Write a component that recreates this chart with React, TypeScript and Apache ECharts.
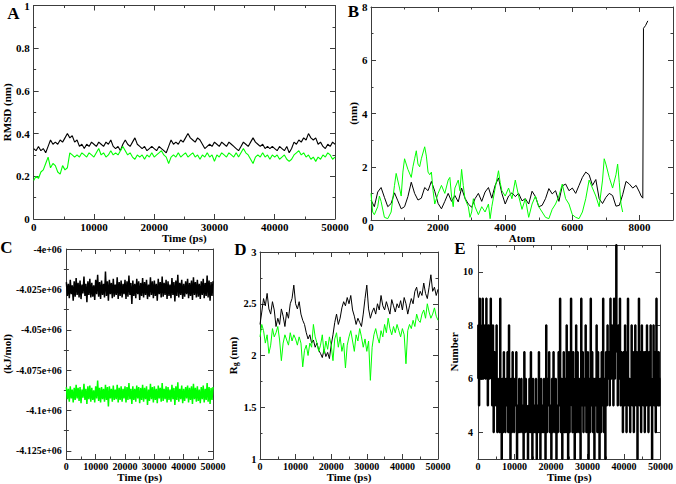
import React, { useEffect, useRef } from "react";
import * as echarts from "echarts";

// ---------- Panel A: RMSD (nm) vs Time (ps), step 400 ps ----------
const A_STEP = 400;
const aBlack = [
  0.33, 0.32, 0.34, 0.32, 0.33, 0.31, 0.34, 0.37, 0.35, 0.36,
  0.35, 0.37, 0.36, 0.38, 0.40, 0.38, 0.39, 0.36, 0.37, 0.34,
  0.35, 0.33, 0.35, 0.34, 0.36, 0.35, 0.34, 0.36, 0.35, 0.34,
  0.36, 0.35, 0.37, 0.34, 0.33, 0.34, 0.32, 0.35, 0.37, 0.35,
  0.34, 0.36, 0.38, 0.35, 0.34, 0.33, 0.34, 0.32, 0.33, 0.34,
  0.33, 0.32, 0.34, 0.33, 0.32, 0.31, 0.34, 0.37, 0.35, 0.36,
  0.35, 0.37, 0.36, 0.38, 0.40, 0.38, 0.37, 0.36, 0.38, 0.37,
  0.35, 0.33, 0.34, 0.35, 0.34, 0.36, 0.35, 0.34, 0.36, 0.35,
  0.34, 0.36, 0.35, 0.34, 0.33, 0.32, 0.34, 0.36, 0.35, 0.34,
  0.36, 0.38, 0.36, 0.35, 0.34, 0.35, 0.33, 0.34, 0.33, 0.34,
  0.33, 0.32, 0.34, 0.33, 0.32, 0.34, 0.31, 0.33, 0.36, 0.35,
  0.37, 0.36, 0.38, 0.37, 0.40, 0.38, 0.37, 0.38, 0.35, 0.36,
  0.34, 0.33, 0.35, 0.34, 0.36, 0.35,
];
const aGreen = [
  0.18, 0.20, 0.19, 0.22, 0.23, 0.26, 0.29, 0.24, 0.26, 0.25,
  0.22, 0.21, 0.25, 0.23, 0.24, 0.31, 0.30, 0.29, 0.30, 0.29,
  0.31, 0.30, 0.29, 0.31, 0.30, 0.29, 0.31, 0.33, 0.30, 0.31,
  0.29, 0.30, 0.32, 0.30, 0.31, 0.30, 0.32, 0.34, 0.32, 0.30,
  0.31, 0.29, 0.28, 0.30, 0.29, 0.30, 0.28, 0.30, 0.29, 0.31,
  0.29, 0.30, 0.31, 0.32, 0.30, 0.29, 0.26, 0.29, 0.30, 0.29,
  0.31, 0.29, 0.30, 0.31, 0.29, 0.30, 0.31, 0.29, 0.30, 0.28,
  0.30, 0.29, 0.31, 0.29, 0.30, 0.27, 0.30, 0.29, 0.31, 0.30,
  0.29, 0.31, 0.30, 0.29, 0.31, 0.29, 0.31, 0.33, 0.31, 0.30,
  0.28, 0.26, 0.29, 0.30, 0.29, 0.31, 0.29, 0.30, 0.28, 0.30,
  0.29, 0.30, 0.28, 0.29, 0.30, 0.28, 0.27, 0.28, 0.30, 0.31,
  0.32, 0.30, 0.31, 0.29, 0.30, 0.28, 0.29, 0.27, 0.29, 0.28,
  0.30, 0.29, 0.31, 0.30, 0.28, 0.29,
];

// ---------- Panel B: (nm) vs Atom ----------
const B_STEP = 100;
const bBlack = [
  0.75, 0.50, 1.05, 1.22, 0.85, 0.50, 0.62, 1.02, 0.72, 0.42,
  0.50, 0.88, 1.42, 1.00, 0.75, 0.82, 1.22, 1.10, 1.45, 1.08,
  0.62, 0.42, 0.70, 1.00, 0.70, 0.92, 0.68, 1.20, 0.82, 0.60,
  0.48, 0.80, 1.00, 0.70, 1.05, 1.22, 0.82, 1.30, 1.58, 1.00,
  0.60, 0.90, 1.02, 0.88, 1.00, 0.72, 0.80, 0.60, 1.08, 0.88,
  0.50, 0.55, 0.80, 1.18, 0.98, 1.10, 0.70, 1.28, 1.35, 1.10,
  1.20, 1.00, 1.30, 1.60, 1.80, 1.70, 1.30, 1.52, 0.80, 0.62,
  0.85, 1.00, 0.92, 0.52, 0.55, 0.95, 1.45, 1.35, 1.20, 1.30,
  1.05,
];
const bBlackTailAtom = [8050, 8100, 8120, 8180, 8250];
const bBlackTailVal = [0.9, 0.82, 7.2, 7.3, 7.48];
const bGreenAtom = [
  0, 50, 100, 200, 250, 300, 400, 500, 600, 700,
  750, 850, 900, 950, 1000, 1100, 1200, 1250, 1300, 1350,
  1400, 1450, 1500, 1600, 1650, 1700, 1750, 1800, 1850, 1900,
  2000, 2100, 2200, 2300, 2350, 2400, 2450, 2500, 2600, 2650,
  2700, 2750, 2800, 2900, 2950, 3000, 3050, 3100, 3200, 3300,
  3400, 3500, 3550, 3600, 3700, 3800, 3850, 3900, 4000, 4100,
  4200, 4300, 4400, 4500, 4600, 4700, 4800, 4900, 5000, 5100,
  5200, 5300, 5400, 5500, 5600, 5700, 5800, 5900, 6000, 6100,
  6200, 6300, 6400, 6500, 6600, 6700, 6800, 6900, 6950, 7000,
  7100, 7200, 7300, 7350, 7400, 7450, 7500,
];
const bGreenVal = [
  1.0, 0.3, 0.2, 0.5, 0.9, 0.7, 0.1, 0.05, 0.3, 1.3,
  1.75, 1.2, 0.9, 1.8, 2.3, 1.9, 1.6, 2.0, 2.3, 2.6,
  2.1, 2.0, 2.3, 2.75, 2.4, 1.8, 1.7, 1.8, 1.1, 0.6,
  1.0, 1.3, 1.0, 1.5, 1.6, 0.9, 0.5, 1.2, 1.5, 1.1,
  1.9, 1.3, 0.8, 0.5, 0.1, 0.3, 0.8, 0.5, 0.2, 0.5,
  0.3, 0.6, 0.05, 0.5, 1.2, 1.85, 1.4, 1.1, 0.9, 1.2,
  0.8, 1.5, 0.9, 0.4, 0.8, 0.1, 0.6, 0.9, 0.5, 0.3,
  0.1, 0.05, 0.4, 0.6, 0.9, 1.35, 0.8, 0.6, 0.2, 0.1,
  0.05, 0.3, 0.8, 1.5, 1.2, 0.9, 0.5, 1.5, 2.3, 2.1,
  1.6, 1.2, 1.7, 2.1, 1.4, 0.6, 0.3,
];

// ---------- Panel C: (kJ/mol) vs Time (ps), 151 samples over 50000 ps ----------
const C_STEP = 50000 / 150;
const cBlack = [
  -4.0205e6, -4.029e6, -4.0215e6, -4.0305e6, -4.019e6, -4.028e6, -4.0225e6, -4.032e6, -4.02e6, -4.0295e6,
  -4.018e6, -4.0285e6, -4.021e6, -4.03e6, -4.0195e6, -4.031e6, -4.022e6, -4.0275e6, -4.017e6, -4.029e6,
  -4.0215e6, -4.033e6, -4.02e6, -4.0285e6, -4.0185e6, -4.03e6, -4.021e6, -4.0295e6, -4.0225e6, -4.0315e6,
  -4.019e6, -4.028e6, -4.016e6, -4.0295e6, -4.0205e6, -4.031e6, -4.0195e6, -4.0285e6, -4.0215e6, -4.03e6,
  -4.014e6, -4.029e6, -4.02e6, -4.032e6, -4.019e6, -4.028e6, -4.021e6, -4.0305e6, -4.0185e6, -4.0295e6,
  -4.022e6, -4.0285e6, -4.0175e6, -4.031e6, -4.0205e6, -4.029e6, -4.0195e6, -4.03e6, -4.0215e6, -4.028e6,
  -4.019e6, -4.031e6, -4.02e6, -4.0295e6, -4.0165e6, -4.0285e6, -4.021e6, -4.034e6, -4.0195e6, -4.029e6,
  -4.0215e6, -4.0305e6, -4.0185e6, -4.028e6, -4.02e6, -4.0315e6, -4.021e6, -4.029e6, -4.018e6, -4.03e6,
  -4.0205e6, -4.0285e6, -4.019e6, -4.031e6, -4.022e6, -4.0295e6, -4.0175e6, -4.0285e6, -4.02e6, -4.0305e6,
  -4.0195e6, -4.029e6, -4.0215e6, -4.032e6, -4.0185e6, -4.028e6, -4.0205e6, -4.03e6, -4.017e6, -4.0295e6,
  -4.021e6, -4.0285e6, -4.019e6, -4.031e6, -4.02e6, -4.029e6, -4.022e6, -4.0305e6, -4.018e6, -4.0285e6,
  -4.0205e6, -4.0325e6, -4.0195e6, -4.029e6, -4.016e6, -4.03e6, -4.021e6, -4.0285e6, -4.019e6, -4.031e6,
  -4.0215e6, -4.0295e6, -4.02e6, -4.028e6, -4.0185e6, -4.0305e6, -4.021e6, -4.029e6, -4.0195e6, -4.0315e6,
  -4.0175e6, -4.0285e6, -4.0205e6, -4.03e6, -4.019e6, -4.0295e6, -4.0215e6, -4.031e6, -4.02e6, -4.0285e6,
  -4.0185e6, -4.0305e6, -4.021e6, -4.029e6, -4.0165e6, -4.03e6, -4.0195e6, -4.032e6, -4.0205e6, -4.029e6,
  -4.02e6,
];
const cGreen = [
  -4.0855e6, -4.093e6, -4.0865e6, -4.0945e6, -4.085e6, -4.0925e6, -4.087e6, -4.095e6, -4.086e6, -4.0935e6,
  -4.084e6, -4.0925e6, -4.086e6, -4.094e6, -4.0855e6, -4.0955e6, -4.087e6, -4.092e6, -4.0835e6, -4.0935e6,
  -4.0865e6, -4.096e6, -4.085e6, -4.093e6, -4.0845e6, -4.0945e6, -4.086e6, -4.0935e6, -4.0875e6, -4.095e6,
  -4.085e6, -4.0925e6, -4.0815e6, -4.094e6, -4.086e6, -4.095e6, -4.0855e6, -4.093e6, -4.0865e6, -4.0945e6,
  -4.084e6, -4.0935e6, -4.0855e6, -4.0975e6, -4.085e6, -4.0925e6, -4.0865e6, -4.0945e6, -4.0845e6, -4.0935e6,
  -4.087e6, -4.093e6, -4.084e6, -4.095e6, -4.086e6, -4.0935e6, -4.085e6, -4.0945e6, -4.0865e6, -4.0925e6,
  -4.085e6, -4.095e6, -4.0855e6, -4.0935e6, -4.083e6, -4.093e6, -4.0865e6, -4.096e6, -4.085e6, -4.0935e6,
  -4.0865e6, -4.0945e6, -4.0845e6, -4.0925e6, -4.0855e6, -4.0955e6, -4.086e6, -4.0935e6, -4.084e6, -4.0945e6,
  -4.086e6, -4.093e6, -4.085e6, -4.0965e6, -4.087e6, -4.094e6, -4.0835e6, -4.093e6, -4.0855e6, -4.095e6,
  -4.085e6, -4.0935e6, -4.0865e6, -4.0955e6, -4.0845e6, -4.0925e6, -4.086e6, -4.0945e6, -4.083e6, -4.094e6,
  -4.0865e6, -4.093e6, -4.085e6, -4.095e6, -4.0855e6, -4.0935e6, -4.087e6, -4.0945e6, -4.084e6, -4.093e6,
  -4.086e6, -4.0965e6, -4.085e6, -4.0935e6, -4.0825e6, -4.0945e6, -4.0865e6, -4.093e6, -4.0845e6, -4.0955e6,
  -4.0865e6, -4.094e6, -4.0855e6, -4.0925e6, -4.0845e6, -4.095e6, -4.086e6, -4.0935e6, -4.085e6, -4.096e6,
  -4.0835e6, -4.093e6, -4.086e6, -4.0945e6, -4.085e6, -4.094e6, -4.087e6, -4.0955e6, -4.0855e6, -4.093e6,
  -4.0845e6, -4.095e6, -4.0865e6, -4.0935e6, -4.083e6, -4.0945e6, -4.0855e6, -4.096e6, -4.086e6, -4.0935e6,
  -4.0855e6,
];
const cTicks = [-4.125e6, -4.1e6, -4.075e6, -4.05e6, -4.025e6, -4.0e6];
const cMinorTicks = [-4.1125e6, -4.0875e6, -4.0625e6, -4.0375e6, -4.0125e6];

// ---------- Panel D: Rg (nm) vs Time (ps), step 500 ps ----------
const D_STEP = 500;
const dBlack = [
  2.30, 2.42, 2.55, 2.48, 2.60, 2.45, 2.40, 2.52, 2.44, 2.28,
  2.36, 2.30, 2.45, 2.38, 2.28, 2.42, 2.36, 2.50, 2.55, 2.68,
  2.50, 2.45, 2.52, 2.40, 2.34, 2.30, 2.22, 2.16, 2.20, 2.12,
  2.15, 2.08, 2.12, 2.05, 2.02, 1.98, 2.06, 1.99, 2.03, 1.97,
  2.10, 2.20, 2.32, 2.40, 2.30, 2.36, 2.46, 2.52, 2.48, 2.56,
  2.50, 2.58, 2.44, 2.38, 2.30, 2.36, 2.32, 2.28, 2.40, 2.55,
  2.68, 2.45, 2.36, 2.42, 2.46, 2.40, 2.50, 2.44, 2.58, 2.48,
  2.44, 2.52, 2.46, 2.40, 2.54, 2.48, 2.42, 2.50, 2.46, 2.53,
  2.44, 2.56, 2.50, 2.40, 2.48, 2.55, 2.50, 2.62, 2.66, 2.56,
  2.62, 2.58, 2.70, 2.60, 2.55, 2.66, 2.78, 2.62, 2.66, 2.58,
  2.64,
];
const dGreen = [
  2.18, 2.30, 2.24, 2.12, 2.20, 2.02, 2.10, 2.26, 2.18, 2.22,
  2.28, 2.15, 1.95, 2.12, 2.20, 2.15, 2.10, 2.22, 2.14, 2.20,
  2.16, 2.10, 2.18, 2.12, 1.89, 2.05, 2.10, 2.00, 2.12, 2.08,
  2.30, 2.18, 2.12, 2.04, 2.10, 2.20, 2.02, 2.14, 2.06, 2.18,
  2.10, 1.95, 2.16, 2.22, 2.08, 2.18, 2.04, 2.12, 1.88, 2.10,
  2.18, 2.24, 2.14, 2.04, 2.20, 2.14, 2.26, 2.18, 2.08, 2.16,
  2.04, 2.14, 1.76, 2.08, 2.20, 2.26, 2.18, 2.12, 2.24, 2.18,
  2.30, 2.22, 2.36, 2.26, 2.20, 2.28, 2.22, 2.30, 2.24, 2.18,
  2.26, 2.20, 1.92, 2.24, 2.30, 2.26, 2.34, 2.28, 2.40, 2.34,
  2.32, 2.40, 2.44, 2.36, 2.50, 2.42, 2.36, 2.40, 2.46, 2.38,
  2.34,
];

// ---------- Panel E: Number vs Time (ps), step 200 ps ----------
const E_STEP = 200;
const eNumber = [
  6, 8, 5, 9, 7, 6, 8, 9, 6, 7,
  8, 6, 9, 7, 5, 8, 6, 7, 9, 6,
  5, 8, 4, 7, 6, 5, 8, 4, 6, 5,
  4, 9, 5, 3, 6, 4, 7, 5, 4, 6,
  5, 7, 4, 8, 5, 3, 6, 4, 7, 5,
  4, 6, 5, 7, 3, 5, 4, 6, 4, 5,
  6, 4, 5, 3, 7, 4, 6, 5, 4, 3,
  5, 6, 4, 7, 5, 3, 6, 4, 5, 4,
  6, 3, 5, 4, 7, 5, 3, 6, 4, 5,
  4, 6, 5, 3, 8, 4, 6, 5, 7, 4,
  5, 3, 6, 4, 7, 5, 4, 6, 3, 5,
  4, 7, 5, 9, 4, 6, 3, 5, 7, 4,
  6, 4, 8, 5, 3, 7, 4, 6, 9, 5,
  4, 7, 5, 3, 6, 8, 4, 7, 5, 4,
  6, 3, 9, 5, 7, 4, 6, 5, 8, 4,
  5, 7, 3, 6, 4, 9, 5, 7, 4, 6,
  3, 6, 5, 8, 4, 7, 5, 3, 6, 4,
  7, 5, 9, 4, 6, 3, 7, 5, 8, 6,
  7, 5, 9, 6, 8, 7, 5, 9, 6, 8,
  11, 7, 5, 8, 6, 9, 5, 7, 6, 4,
  7, 5, 8, 6, 4, 7, 9, 5, 6, 4,
  6, 8, 5, 7, 4, 6, 8, 5, 7, 3,
  6, 9, 5, 7, 4, 8, 6, 5, 7, 4,
  7, 5, 8, 6, 4, 7, 5, 8, 6, 3,
  6, 8, 5, 7, 4, 9, 6, 5, 7, 5,
  6,
];
const eTicks = [4, 6, 8, 10];

const FONT = "Liberation Serif, Times New Roman, serif";
const AXC = "#3c3c3c";
const GREEN = "#00ff00";

const txt = (size: number) => ({
  fontSize: size,
  fontWeight: "bold" as const,
  fontFamily: FONT,
  color: "#000",
});

type AxOpt = {
  min: number;
  max: number;
  interval?: number;
  fs: number;
  margin: number;
  name: string;
  nameGap: number;
  nfs: number;
  custom?: number[];
  formatter?: (v: number) => string;
  rich?: any;
};

const plain = (v: number) => String(v);

function mkX(g: number, o: AxOpt) {
  const base: any = {
    type: "value",
    gridIndex: g,
    min: o.min,
    max: o.max,
    interval: o.interval,
    axisLine: { show: true, onZero: false, lineStyle: { color: AXC, width: 1 } },
    axisTick: { show: true, inside: true, length: 5, lineStyle: { color: AXC } },
    minorTick: { show: true, splitNumber: 2, length: 2.5, lineStyle: { color: AXC } },
    splitLine: { show: false },
    minorSplitLine: { show: false },
  };
  return [
    {
      ...base,
      position: "bottom",
      axisLabel: { show: true, margin: o.margin, ...txt(o.fs), formatter: o.formatter || plain },
      name: o.name,
      nameLocation: "middle",
      nameGap: o.nameGap,
      nameTextStyle: txt(o.nfs),
    },
    { ...base, position: "top", axisLabel: { show: false } },
  ];
}

function mkY(g: number, o: AxOpt) {
  const base: any = {
    type: "value",
    gridIndex: g,
    min: o.min,
    max: o.max,
    interval: o.interval,
    axisLine: { show: true, onZero: false, lineStyle: { color: AXC, width: 1 } },
    axisTick: {
      show: true,
      inside: true,
      length: 5,
      lineStyle: { color: AXC },
      ...(o.custom ? { customValues: o.custom } : {}),
    },
    minorTick: { show: !o.custom, splitNumber: 2, length: 2.5, lineStyle: { color: AXC } },
    splitLine: { show: false },
    minorSplitLine: { show: false },
  };
  return [
    {
      ...base,
      position: "left",
      axisLabel: {
        show: true,
        margin: o.margin,
        ...txt(o.fs),
        ...(o.custom ? { customValues: o.custom } : {}),
        formatter: o.formatter || plain,
      },
      name: o.name,
      nameLocation: "middle",
      nameGap: o.nameGap,
      nameTextStyle: { ...txt(o.nfs), ...(o.rich ? { rich: o.rich } : {}) },
    },
    { ...base, position: "right", axisLabel: { show: false } },
  ];
}

function minorY(g: number, pos: "left" | "right", min: number, max: number, vals: number[]) {
  return {
    type: "value",
    gridIndex: g,
    position: pos,
    min,
    max,
    axisLine: { show: false },
    axisTick: { show: true, inside: true, length: 2.5, lineStyle: { color: AXC }, customValues: vals },
    axisLabel: { show: false },
    splitLine: { show: false },
  };
}

const line = (
  data: number[][],
  color: string,
  xi: number,
  yi: number,
  width = 1,
  step?: string
) => ({
  type: "line",
  xAxisIndex: xi,
  yAxisIndex: yi,
  data,
  showSymbol: false,
  symbol: "none",
  silent: true,
  ...(step ? { step } : {}),
  lineStyle: { color, width },
});

const cFmt = (v: number) => {
  const m = (v / 1e6).toFixed(3).replace(/0+$/, "").replace(/\.$/, "");
  return m + "e+06";
};

const letter = (t: string, x: number, y: number) => ({
  type: "text",
  x,
  y,
  style: {
    text: t,
    fontSize: 17,
    fontWeight: "bold",
    fontFamily: FONT,
    fill: "#000",
    align: "center",
    verticalAlign: "middle",
  },
});

export default function App() {
  const ref = useRef<HTMLDivElement>(null);
  useEffect(() => {
    const chart = echarts.init(ref.current!, null, { renderer: "svg" });

    const aBlackData = aBlack.map((v, i) => [i * A_STEP, v]);
    const aGreenData = aGreen.map((v, i) => [i * A_STEP, v]);
    const bBlackData = bBlack
      .map((v, i) => [i * B_STEP, v])
      .concat(bBlackTailAtom.map((a, i) => [a, bBlackTailVal[i]]));
    const bGreenData = bGreenAtom.map((a, i) => [a, bGreenVal[i]]);
    const cBlackData = cBlack.map((v, i) => [i * C_STEP, v]);
    const cGreenData = cGreen.map((v, i) => [i * C_STEP, v]);
    const dBlackData = dBlack.map((v, i) => [i * D_STEP, v]);
    const dGreenData = dGreen.map((v, i) => [i * D_STEP, v]);
    const eData = eNumber.map((v, i) => [i * E_STEP, v]);

    const xAxis = [
      ...mkX(0, { min: 0, max: 50000, interval: 10000, fs: 11, margin: 2, name: "Time (ps)", nameGap: 11, nfs: 11 }),
      ...mkX(1, {
        min: 0,
        max: 9000,
        interval: 2000,
        fs: 11,
        margin: 1,
        name: "Atom",
        nameGap: 12,
        nfs: 11,
        formatter: (v: number) => (v === 9000 ? "" : String(v)),
      }),
      ...mkX(2, { min: 0, max: 50000, interval: 10000, fs: 10, margin: 2, name: "Time (ps)", nameGap: 12.5, nfs: 11 }),
      ...mkX(3, { min: 0, max: 50000, interval: 10000, fs: 10, margin: 2, name: "Time (ps)", nameGap: 12.5, nfs: 11 }),
      ...mkX(4, { min: 0, max: 50000, interval: 10000, fs: 10, margin: 2, name: "Time (ps)", nameGap: 12.5, nfs: 11 }),
    ];
    const yAxis = [
      ...mkY(0, { min: 0, max: 1, interval: 0.2, fs: 11, margin: 4, name: "RMSD (nm)", nameGap: 20.5, nfs: 11 }),
      ...mkY(1, { min: 0, max: 8, interval: 2, fs: 11, margin: 3.5, name: "(nm)", nameGap: 11, nfs: 11 }),
      ...mkY(2, {
        min: -4.13e6,
        max: -4.0e6,
        fs: 10,
        margin: 4.5,
        name: "(kJ/mol)",
        nameGap: 52,
        nfs: 11,
        custom: cTicks,
        formatter: cFmt,
      }),
      ...mkY(3, {
        min: 1,
        max: 3,
        interval: 0.5,
        fs: 10.5,
        margin: 3.5,
        name: "{r|R}{g|g}{r| (nm)}",
        nameGap: 18,
        nfs: 11,
        rich: {
          r: { ...txt(11), lineHeight: 12, verticalAlign: "top" },
          g: { ...txt(8), lineHeight: 8, verticalAlign: "bottom", padding: [6, 0, 0, 0] },
        },
      }),
      ...mkY(4, { min: 3, max: 11, fs: 10, margin: 5, name: "Number", nameGap: 15, nfs: 11, custom: eTicks }),
      minorY(2, "left", -4.13e6, -4.0e6, cMinorTicks),
      minorY(2, "right", -4.13e6, -4.0e6, cMinorTicks),
    ];

    chart.setOption({
      animation: false,
      backgroundColor: "#fff",
      grid: [
        { left: 30, top: 4, width: 305, height: 215 },
        { left: 371, top: 7, width: 304, height: 213 },
        { left: 63, top: 249, width: 150, height: 210 },
        { left: 260, top: 252, width: 178, height: 207 },
        { left: 478, top: 245, width: 184, height: 214 },
      ],
      xAxis,
      yAxis,
      series: [
        line(aBlackData, "#000", 0, 0, 1.1),
        line(aGreenData, GREEN, 0, 0, 1.1),
        line(bBlackData, "#000", 2, 2),
        line(bGreenData, GREEN, 2, 2),
        line(cBlackData, "#000", 4, 4, 1.5),
        line(cGreenData, GREEN, 4, 4, 1.5),
        line(dBlackData, "#000", 6, 6),
        line(dGreenData, GREEN, 6, 6),
        line(eData, "#000", 8, 8, 1.8, "start"),
      ],
      graphic: [
        letter("A", 13.5, 13),
        letter("B", 353.5, 11),
        letter("C", 6.5, 247),
        letter("D", 240.5, 249),
        letter("E", 460, 248),
      ],
    });
    return () => chart.dispose();
  }, []);
  return (
    <div
      ref={ref}
      style={{ position: "fixed", left: 0, top: 0, width: 676, height: 484, background: "#fff" }}
    />
  );
}
